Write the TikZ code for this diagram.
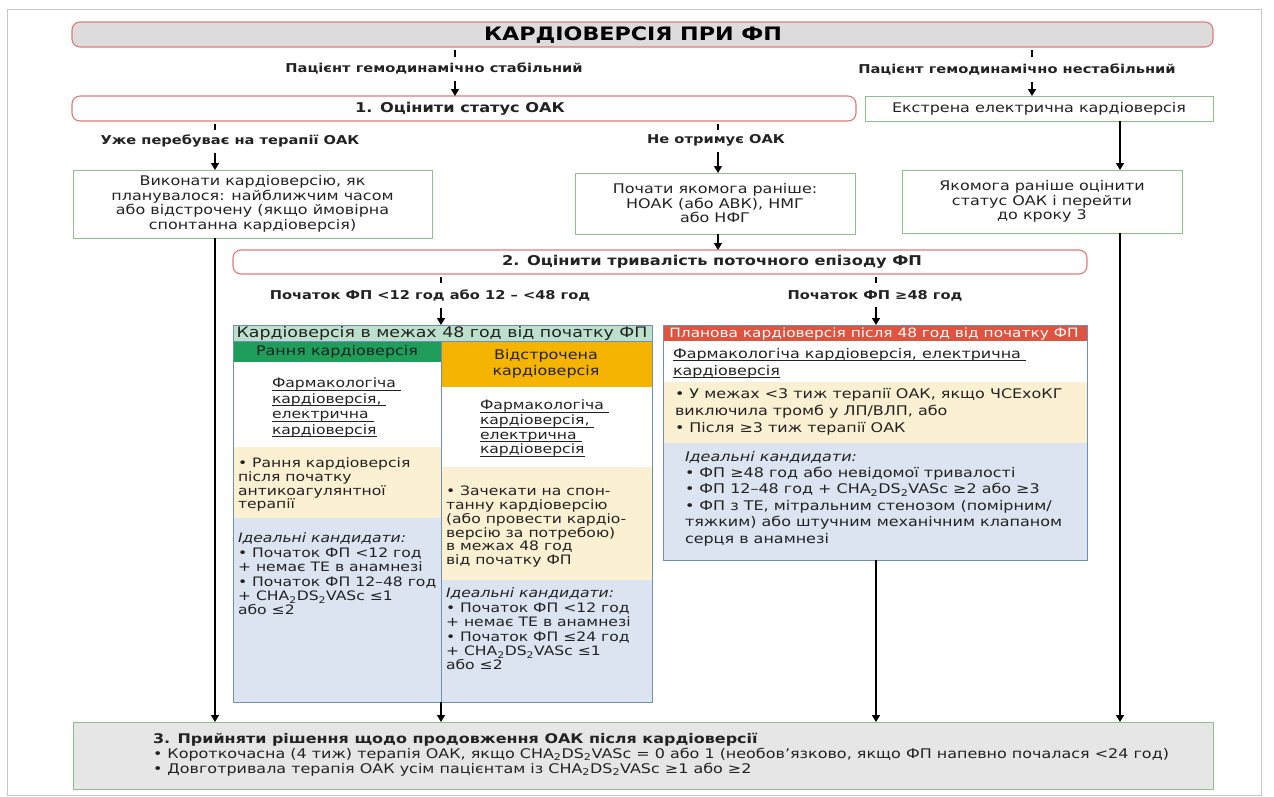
\documentclass[tikz,border=0pt]{standalone}
\usepackage{fontspec}
\setmainfont{DejaVu Sans}[FakeStretch=1.2]
\usetikzlibrary{arrows.meta}
\definecolor{redb}{HTML}{E07A7A}
\definecolor{titlef}{HTML}{DCDCDC}
\definecolor{greenb}{HTML}{8CC08C}
\definecolor{blueb}{HTML}{6F8FB5}
\definecolor{hdrg}{HTML}{BCE0CB}
\definecolor{grn}{HTML}{1E9E5A}
\definecolor{orng}{HTML}{F4B400}
\definecolor{beige}{HTML}{FCF0D2}
\definecolor{bluef}{HTML}{DBE4F0}
\definecolor{redh}{HTML}{E0533E}
\definecolor{s3f}{HTML}{E6E6E6}
\definecolor{s3b}{HTML}{8DC08D}
\definecolor{framec}{HTML}{C8C8C8}
\definecolor{txt}{HTML}{222222}
\newcommand{\chads}{CHA\textsubscript{2}DS\textsubscript{2}VASc}
\newcommand{\fsz}[2]{\fontsize{#1}{#2}\selectfont}
\newcommand{\uln}[1]{\setbox0=\hbox{#1}\rlap{\rule[-2.8pt]{\wd0}{0.7pt}}\box0}
\begin{document}
\begin{tikzpicture}[x=1pt,y=-1pt,
  every node/.style={inner sep=0pt,outer sep=0pt,text=txt},
  rbox/.style={draw=redb,line width=1.1pt,rounded corners=8pt},
  gbox/.style={draw=greenb,line width=1pt,fill=white},
  bigbox/.style={draw=blueb,line width=1pt},
  arr/.style={line width=1.4pt,-{Triangle[length=7pt,width=8pt]}},
  tk/.style={line width=2.6pt},
  lt/.style={anchor=north west,align=left},
  lbl/.style={font=\fsz{12.2}{14}\bfseries},
  body/.style={font=\fsz{13.3}{14.5},align=center}
]
\useasboundingbox (0,0) rectangle (1274,796);
\draw[framec,line width=0.8pt] (7,9) rectangle (1261,795);
\coordinate (xS) at (455,0);
\coordinate (xU) at (1032,0);
\coordinate (xL) at (215,0);
\coordinate (xM) at (718,0);
\coordinate (xR) at (1120,0);
\coordinate (xP) at (441,0);
\coordinate (xQ) at (876,0);
% title
\node[rbox,fill=titlef,minimum width=1141pt,minimum height=25pt] (title) at (642.5,34.5) {};
\node[font=\fsz{18.5}{19}\bfseries,text=black] (ttext) at (633,35) {КАРДІОВЕРСІЯ ПРИ ФП};
% step 1 and emergency
\node[rbox,fill=white,minimum width=784pt,minimum height=25pt] (s1) at (464,108.5) {};
\node[font=\fsz{13.5}{15}\bfseries] (s1t) at (460,108.5) {1. Оцінити статус ОАК};
\node[gbox,body,minimum width=348pt,minimum height=25pt] (ek) at (1039,108.5) {Екстрена електрична кардіоверсія};
\node[lbl] (lS) at (434,69) {Пацієнт гемодинамічно стабільний};
\node[lbl] (lU) at (1017,70) {Пацієнт гемодинамічно нестабільний};
\draw[tk] ([yshift=-3pt]title.south -| xS) -- ++(0,7);
\draw[tk] ([yshift=-3pt]title.south -| xU) -- ++(0,7);
\draw[arr] ([yshift=-6pt]lS.south -| xS) -- (s1.north -| xS);
\draw[arr] ([yshift=-6pt]lU.south -| xU) -- (ek.north -| xU);
% row of boxes
\node[gbox,body,minimum width=359pt,minimum height=68pt] (A) at (252.5,204)
  {Виконати кардіоверсію, як\\планувалося: найближчим часом\\або відстрочену (якщо ймовірна\\спонтанна кардіоверсія)};
\node[gbox,body,minimum width=280pt,minimum height=61pt] (B) at (715,203.5)
  {Почати якомога раніше:\\НОАК (або АВК), НМГ\\або НФГ};
\node[gbox,body,minimum width=280pt,minimum height=63pt] (C) at (1042,201.5)
  {Якомога раніше оцінити\\статус ОАК і перейти\\до кроку 3};
\node[lbl] (lOn) at (230,141) {Уже перебуває на терапії ОАК};
\node[lbl] (lNo) at (716,140) {Не отримує ОАК};
\draw[tk] ([yshift=-3pt]s1.south -| xL) -- ++(0,6);
\draw[tk] ([yshift=-3pt]s1.south -| xM) -- ++(0,6);
\draw[arr] ([yshift=-6pt]lOn.south -| xL) -- (A.north -| xL);
\draw[arr] ([yshift=-6pt]lNo.south -| xM) -- (B.north -| xM);
\draw[arr] (ek.south -| xR) -- (C.north -| xR);
% step 2
\node[rbox,fill=white,minimum width=854pt,minimum height=24pt] (s2) at (660,262) {};
\node[font=\fsz{13.5}{15}\bfseries] (s2t) at (712,262) {2. Оцінити тривалість поточного епізоду ФП};
\draw[arr] (B.south -| xM) -- (s2.north -| xM);
\node[lbl] (lLt) at (430,296) {Початок ФП <12 год або 12 – <48 год};
\node[lbl] (lGe) at (875,296) {Початок ФП ≥48 год};
\draw[tk] ([yshift=-3pt]s2.south -| xP) -- ++(0,6);
\draw[tk] ([yshift=-3pt]s2.south -| xQ) -- ++(0,6);
% left big box fills
\fill[hdrg] (233,325) rectangle (652,341);
\fill[grn] (233,341) rectangle (441,362);
\fill[white] (233,362) rectangle (441,447);
\fill[beige] (233,447) rectangle (441,518);
\fill[bluef] (233,518) rectangle (441,702);
\fill[orng] (441,341) rectangle (652,387);
\fill[white] (441,387) rectangle (652,467);
\fill[beige] (441,467) rectangle (652,580);
\fill[bluef] (441,580) rectangle (652,702);
\node[bigbox,minimum width=419pt,minimum height=377pt] (LB) at (442.5,513.5) {};
\draw[blueb,line width=0.8pt] (LB.west |- 0,341) -- (LB.east |- 0,341);
\draw[blueb,line width=1pt] (LB.north -| xP) ++(0,16) -- (LB.south -| xP);
\node[font=\fsz{14.5}{15}] (h48) at (442,333.5) {Кардіоверсія в межах 48 год від початку ФП};
\node[font=\fsz{13.3}{15}] (hE) at (337,352) {Рання кардіоверсія};
\node[font=\fsz{13.3}{15.5},align=center] (hD) at (546,364) {Відстрочена\\кардіоверсія};
\node[lt,font=\fsz{13}{15.5}] (uL) at (272,378) {\uln{Фармакологіча }\\\uln{кардіоверсія, }\\\uln{електрична }\\\uln{кардіоверсія}};
\node[lt,font=\fsz{13}{14.7}] (uR) at (480,400) {\uln{Фармакологіча }\\\uln{кардіоверсія, }\\\uln{електрична }\\\uln{кардіоверсія}};
\node[lt,font=\fsz{13}{13.6}] (bL) at (238,458) {• Рання кардіоверсія\\після початку\\антикоагулянтної\\терапії};
\node[lt,font=\fsz{13}{14.4}] (cL) at (238,533) {\textit{Ідеальні кандидати:}\\• Початок ФП <12 год\\+ немає ТЕ в анамнезі\\• Початок ФП 12–48 год\\+ \chads{} ≤1\\або ≤2};
\node[lt,font=\fsz{13}{13.8}] (bR) at (446,486) {• Зачекати на спон-\\танну кардіоверсію\\(або провести кардіо-\\версію за потребою)\\в межах 48 год\\від початку ФП};
\node[lt,font=\fsz{13}{14.4}] (cR) at (446,588) {\textit{Ідеальні кандидати:}\\• Початок ФП <12 год\\+ немає ТЕ в анамнезі\\• Початок ФП ≤24 год\\+ \chads{} ≤1\\або ≤2};
\draw[arr] ([yshift=-6pt]lLt.south -| xP) -- (LB.north -| xP);
% right big box
\fill[redh] (663,325) rectangle (1087,341);
\fill[white] (663,341) rectangle (1087,382);
\fill[beige] (663,382) rectangle (1087,443);
\fill[bluef] (663,443) rectangle (1087,560);
\node[bigbox,minimum width=424pt,minimum height=235pt] (RB) at (875,442.5) {};
\node[font=\fsz{12.8}{14},text=white] (hP) at (874,333.5) {Планова кардіоверсія після 48 год від початку ФП};
\node[lt,font=\fsz{13.3}{17}] (uP) at (673,348) {\uln{Фармакологіча кардіоверсія, електрична }\\\uln{кардіоверсія}};
\node[lt,font=\fsz{13.3}{17}] (bP) at (675,388) {• У межах <3 тиж терапії ОАК, якщо ЧСЕхоКГ\\виключила тромб у ЛП/ВЛП, або\\• Після ≥3 тиж терапії ОАК};
\node[lt,font=\fsz{13.3}{16.4}] (cP) at (685,451) {\textit{Ідеальні кандидати:}\\• ФП ≥48 год або невідомої тривалості\\• ФП 12–48 год + \chads{} ≥2 або ≥3\\• ФП з ТЕ, мітральним стенозом (помірним/\\тяжким) або штучним механічним клапаном\\серця в анамнезі};
\draw[arr] ([yshift=-6pt]lGe.south -| xQ) -- (RB.north -| xQ);
% step 3
\node[draw=s3b,fill=s3f,line width=1pt,minimum width=1140pt,minimum height=67pt] (s3) at (643,755.5) {};
\node[lt,font=\fsz{13.3}{15}] (s3t) at (153,733) {\textbf{3. Прийняти рішення щодо продовження ОАК після кардіоверсії}\\• Короткочасна (4 тиж) терапія ОАК, якщо \chads{} = 0 або 1 (необов’язково, якщо ФП напевно почалася <24 год)\\• Довготривала терапія ОАК усім пацієнтам із \chads{} ≥1 або ≥2};
\draw[arr] (A.south -| xL) -- (s3.north -| xL);
\draw[arr] (LB.south -| xP) -- (s3.north -| xP);
\draw[arr] (RB.south -| xQ) -- (s3.north -| xQ);
\draw[arr] (C.south -| xR) -- (s3.north -| xR);
\end{tikzpicture}
\end{document}
